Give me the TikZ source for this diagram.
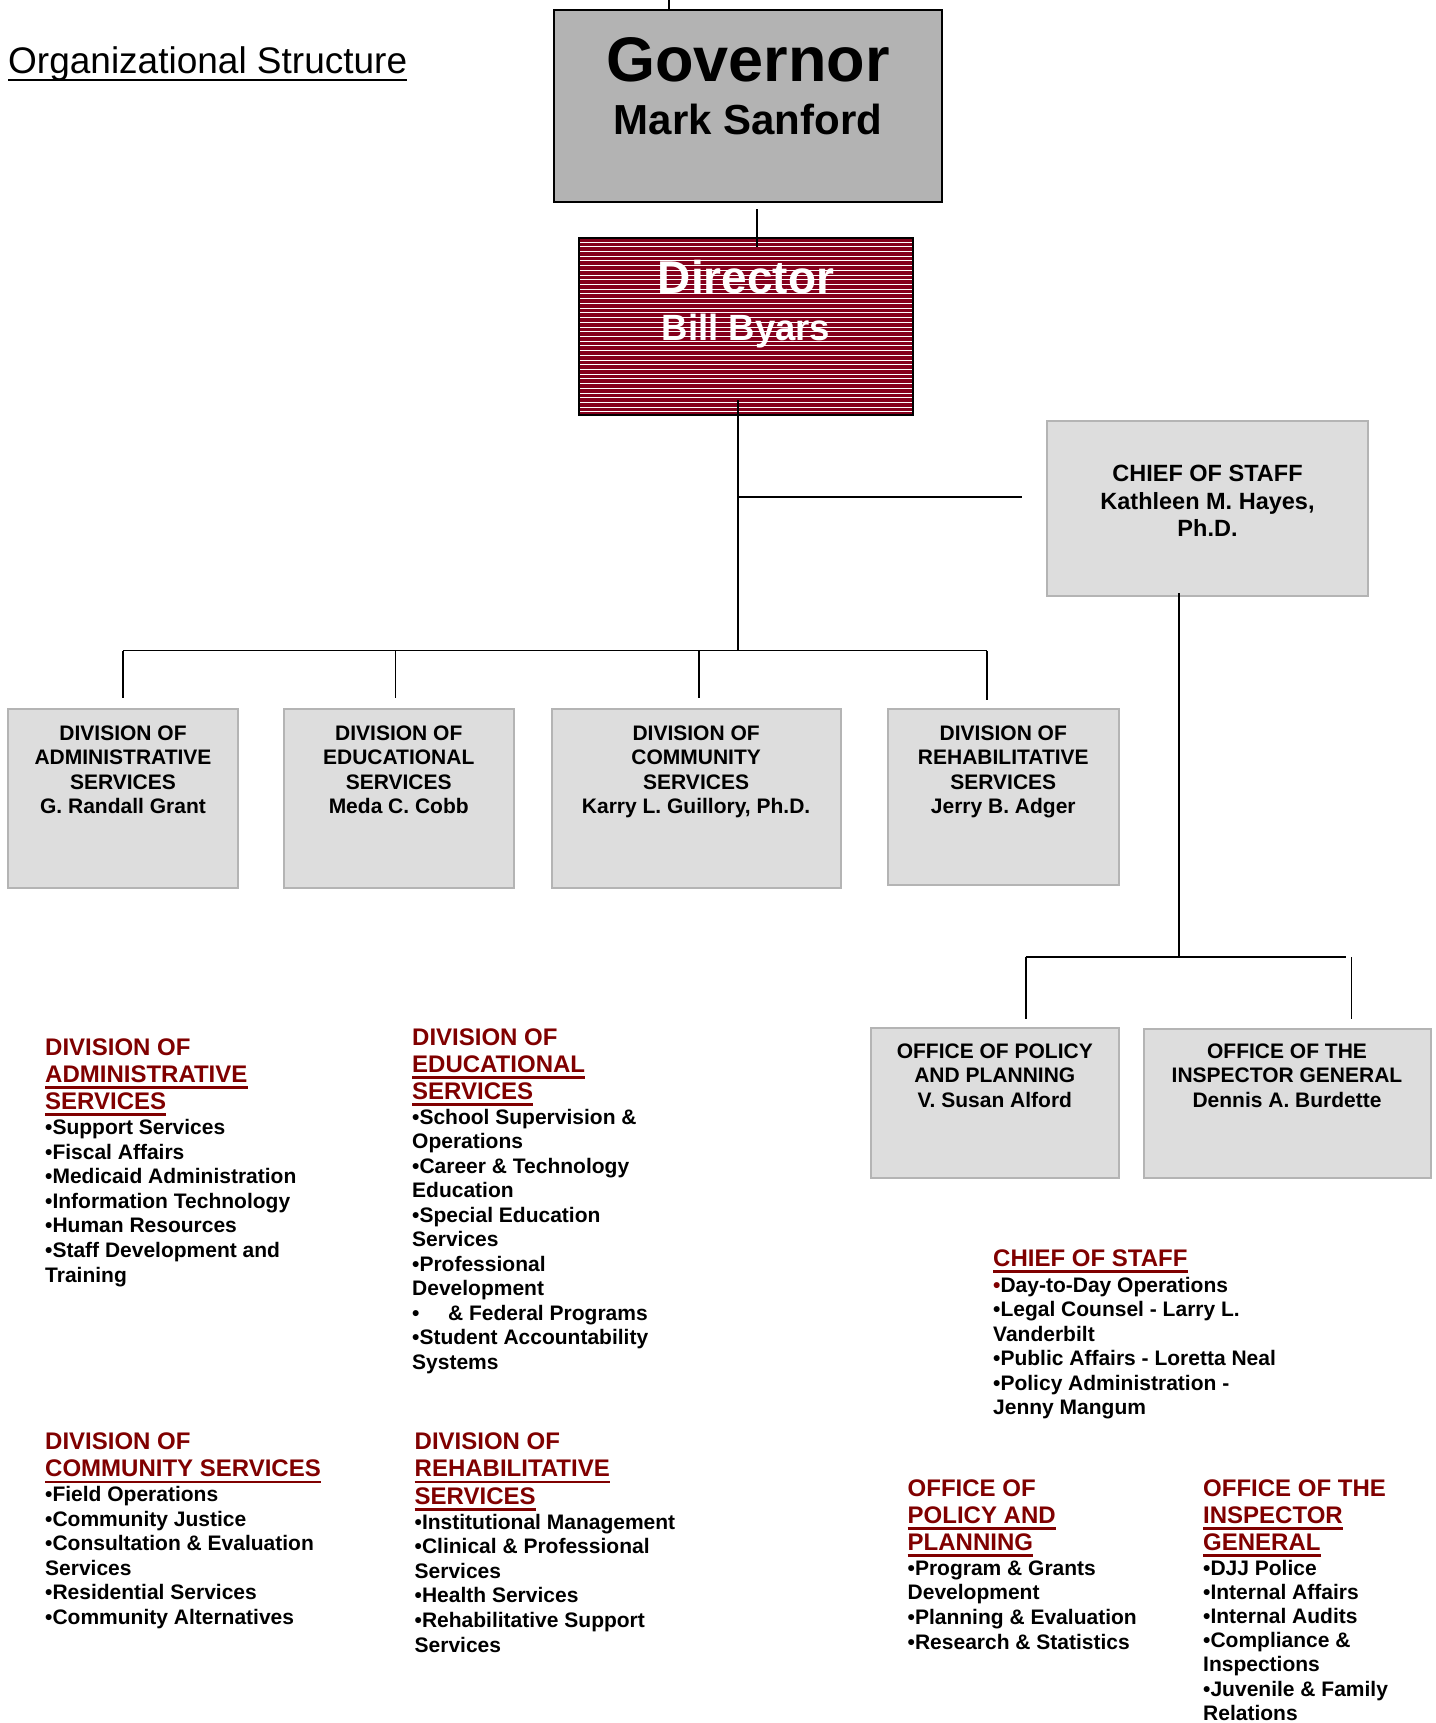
\documentclass[tikz,border=0pt]{standalone}
\usepackage{fontspec}
\setmainfont{Liberation Sans}
\usetikzlibrary{calc}
\definecolor{djjred}{RGB}{128,0,0}
\definecolor{dirred}{RGB}{133,0,28}
\definecolor{boxfill}{RGB}{221,221,221}
\definecolor{boxedge}{RGB}{180,180,180}
\definecolor{govfill}{RGB}{179,179,179}
\newcommand\txtblock[6]{\foreach \tline [count=\i from 0] in {#6} {\node[#2] (#1\i) at (#3,{#4+#5*\i}) {\tline};}}
\begin{document}
\begin{tikzpicture}[x=1pt,y=-1pt,
  conn/.style={line width=1.6pt,draw=black},
  graybox/.style={draw=boxedge,fill=boxfill,line width=2pt,inner sep=0pt},
  bxt/.style={font=\fontsize{21}{24}\selectfont\bfseries,inner sep=0pt,anchor=base},
  cst/.style={font=\fontsize{23.5}{27}\selectfont\bfseries,inner sep=0pt,anchor=base},
  hd/.style={font=\fontsize{24}{27}\selectfont\bfseries,text=djjred,inner sep=0pt,anchor=base west},
  bd/.style={font=\fontsize{21}{24}\selectfont\bfseries,inner sep=0pt,anchor=base west},
  ul/.style={draw=djjred,line width=2.8pt},
]
\useasboundingbox (0,0) rectangle (1435,1723);

% title
\node[font=\fontsize{37}{42}\selectfont,inner sep=0pt,anchor=base west] (title) at (8,74) {Organizational Structure};
\draw[line width=2.6pt] ([yshift=-6pt]title.base west) -- ([yshift=-6pt]title.base east);

% governor
\node[draw=black,fill=govfill,line width=2pt,minimum width=388pt,minimum height=192pt,inner sep=0pt] (gov) at (748,106) {};
\node[font=\fontsize{63}{70}\selectfont\bfseries,inner sep=0pt,anchor=base] (govT0) at (748,82) {Governor};
\node[font=\fontsize{42}{48}\selectfont\bfseries,inner sep=0pt,anchor=base] (govT1) at (748,135) {Mark Sanford};

% director
\node[fill=dirred,minimum width=334pt,minimum height=177pt,inner sep=0pt] (dir) at (746,326.5) {};
\foreach \k in {0,...,36} \draw[white,line width=0.9pt] (580,{242+4.72*\k}) -- (912,{242+4.72*\k});
\draw[line width=2pt] (dir.south west) rectangle (dir.north east);
\node[font=\fontsize{46}{52}\selectfont\bfseries,text=white,inner sep=0pt,anchor=base] (dirT0) at (746,293) {Director};
\node[font=\fontsize{36.5}{42}\selectfont\bfseries,text=white,inner sep=0pt,anchor=base] (dirT1) at (746,340) {Bill Byars};

% chief of staff
\node[graybox,minimum width=321pt,minimum height=175pt] (chief) at (1207.5,508.5) {};
\txtblock{cosT}{cst}{1207.5}{481.5}{27.5}{CHIEF OF STAFF,{Kathleen M. Hayes,},Ph.D.}

% divisions
\node[graybox,minimum width=230.7pt,minimum height=179pt] (dadm) at (123,798.5) {};
\node[graybox,minimum width=230.5pt,minimum height=179pt] (dedu) at (398.75,798.5) {};
\node[graybox,minimum width=289pt,minimum height=179pt] (dcom) at (696.1,798.5) {};
\node[graybox,minimum width=230.6pt,minimum height=176pt] (dreh) at (1003.3,797) {};
\txtblock{admT}{bxt}{123}{740}{24.5}{DIVISION OF,ADMINISTRATIVE,SERVICES,G. Randall Grant}
\txtblock{eduT}{bxt}{398.75}{740}{24.5}{DIVISION OF,EDUCATIONAL,SERVICES,Meda C. Cobb}
\txtblock{comT}{bxt}{696.1}{740}{24.5}{DIVISION OF,COMMUNITY,SERVICES,{Karry L. Guillory, Ph.D.}}
\txtblock{rehT}{bxt}{1003.3}{740}{24.5}{DIVISION OF,REHABILITATIVE,SERVICES,Jerry B. Adger}

% offices
\node[graybox,minimum width=247.6pt,minimum height=150pt] (opp) at (994.8,1103) {};
\node[graybox,minimum width=287pt,minimum height=149pt] (oig) at (1287,1103.5) {};
\txtblock{oppT}{bxt}{994.8}{1058}{24.5}{OFFICE OF POLICY,AND PLANNING,V. Susan Alford}
\txtblock{oigT}{bxt}{1287}{1058}{24.5}{OFFICE OF THE,INSPECTOR GENERAL,Dennis A. Burdette}

% connectors
\coordinate (tickTop) at (669,0);
\draw[conn] (tickTop) -- (tickTop |- gov.north);
\draw[conn] ([xshift=9pt,yshift=-6pt]gov.south) -- ([xshift=11pt,yshift=-9pt]dir.north);
\coordinate (hub) at (738,650.5);
\draw[conn] ([xshift=-8pt,yshift=15pt]dir.south) -- (hub);
\coordinate (cosJ) at (738,497);
\coordinate (cosEnd) at (1022,497);
\draw[conn] (cosJ) -- (cosEnd);
\coordinate (admTop) at ([yshift=10pt]dadm.north);
\coordinate (eduTop) at ([xshift=-3.15pt,yshift=10pt]dedu.north);
\coordinate (comTop) at ([xshift=2.9pt,yshift=10pt]dcom.north);
\coordinate (rehTop) at ([xshift=-16.3pt,yshift=8.5pt]dreh.north);
\draw[conn] (admTop |- hub) -- (rehTop |- hub);
\draw[conn] (admTop |- hub) -- (admTop);
\draw[conn] (eduTop |- hub) -- (eduTop);
\draw[conn] (comTop |- hub) -- (comTop);
\draw[conn] (rehTop |- hub) -- (rehTop);
\coordinate (cosBot) at ([xshift=-28.5pt,yshift=4pt]chief.south);
\coordinate (hub2) at (1179,957);
\draw[conn] (cosBot) -- (hub2);
\coordinate (oppTop) at ([xshift=30.9pt,yshift=8pt]opp.north);
\coordinate (oigTop) at ([xshift=64.5pt,yshift=9pt]oig.north);
\coordinate (oR) at (1346,957);
\draw[conn] (oppTop |- hub2) -- (oR);
\draw[conn] (oppTop |- hub2) -- (oppTop);
\draw[conn] (oigTop |- hub2) -- (oigTop);

% lower text blocks
\txtblock{admH}{hd}{45}{1055}{27}{DIVISION OF,ADMINISTRATIVE,SERVICES}
\txtblock{admB}{bd}{45}{1134.5}{24.6}{{•Support Services},{•Fiscal Affairs},{•Medicaid Administration},{•Information Technology},{•Human Resources},{•Staff Development and},{Training}}

\txtblock{eduH}{hd}{412}{1045}{27}{DIVISION OF,EDUCATIONAL,SERVICES}
\txtblock{eduB}{bd}{412}{1124}{24.5}{{•School Supervision \&},{Operations},{•Career \& Technology},{Education},{•Special Education},{Services},{•Professional},{Development},{•\hspace{28.6pt}\& Federal Programs},{•Student Accountability},{Systems}}

\txtblock{cosH}{hd}{993}{1266}{27}{CHIEF OF STAFF}
\txtblock{cosB}{bd}{993}{1292}{24.5}{{{\color{djjred}•}Day-to-Day Operations},{•Legal Counsel - Larry L.},{Vanderbilt},{•Public Affairs - Loretta Neal},{•Policy Administration -},{Jenny Mangum}}

\txtblock{comH}{hd}{45}{1449}{27.5}{DIVISION OF,COMMUNITY SERVICES}
\txtblock{comB}{bd}{45}{1501.5}{24.6}{{•Field Operations},{•Community Justice},{•Consultation \& Evaluation},{Services},{•Residential Services},{•Community Alternatives}}

\txtblock{rehH}{hd}{414.5}{1449}{27.5}{DIVISION OF,REHABILITATIVE,SERVICES}
\txtblock{rehB}{bd}{414.5}{1529}{24.6}{{•Institutional Management},{•Clinical \& Professional},{Services},{•Health Services},{•Rehabilitative Support},{Services}}

\txtblock{oppH}{hd}{907.5}{1496}{27}{OFFICE OF,POLICY AND,PLANNING}
\txtblock{oppB}{bd}{907.5}{1575}{24.8}{{•Program \& Grants},{Development},{•Planning \& Evaluation},{•Research \& Statistics}}

\txtblock{oigH}{hd}{1203}{1496}{27}{OFFICE OF THE,INSPECTOR,GENERAL}
\txtblock{oigB}{bd}{1203}{1575}{24.2}{{•DJJ Police},{•Internal Affairs},{•Internal Audits},{•Compliance \&},{Inspections},{•Juvenile \& Family},{Relations}}

% underlines of headings
\foreach \h in {admH1,admH2,eduH1,eduH2,cosH0,comH1,rehH1,rehH2,oppH1,oppH2,oigH1,oigH2}
  \draw[ul] ([yshift=-5.5pt]\h.base west) -- ([yshift=-5.5pt]\h.base east);
\end{tikzpicture}
\end{document}
